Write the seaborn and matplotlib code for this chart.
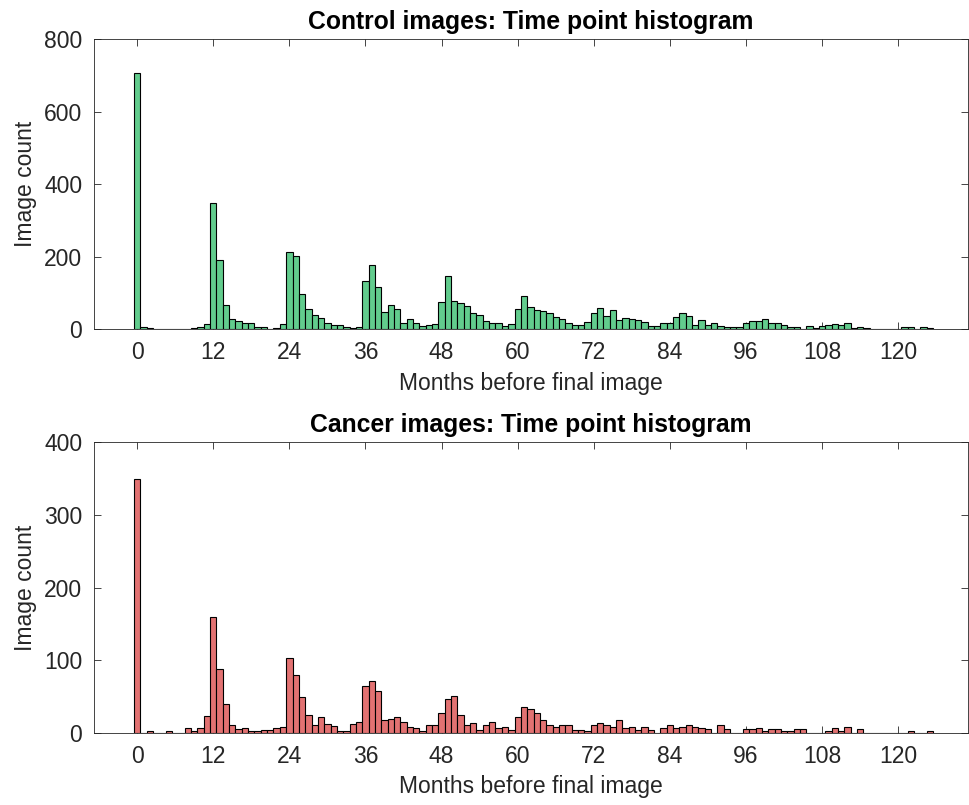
import numpy as np
import matplotlib
matplotlib.use("Agg")
import matplotlib.pyplot as plt
import seaborn as sns

# Months before the final image (one-month bins)
months = np.arange(126)

control_counts = [
    705, 6, 3, 0, 2, 2, 0, 2, 2, 3, 6, 14,
    347, 192, 67, 29, 24, 16, 16, 5, 5, 0, 3, 14,
    214, 203, 97, 57, 40, 32, 16, 13, 13, 7, 3, 7,
    133, 176, 117, 49, 68, 55, 17, 28, 16, 8, 11, 14,
    74, 146, 79, 72, 63, 46, 40, 24, 17, 17, 9, 14,
    57, 93, 61, 52, 50, 44, 33, 28, 18, 11, 11, 19,
    44, 58, 36, 52, 25, 30, 28, 25, 19, 9, 9, 17,
    17, 35, 44, 36, 11, 25, 13, 16, 10, 7, 5, 5,
    17, 22, 22, 28, 17, 17, 11, 7, 5, 0, 8, 3,
    8, 11, 14, 11, 17, 3, 6, 3, 0, 0, 0, 0,
    2, 6, 6, 0, 6, 3,
]

cancer_counts = [
    349, 0, 2, 0, 0, 3, 0, 0, 7, 3, 7, 23,
    160, 88, 39, 10, 5, 7, 3, 3, 4, 4, 7, 8,
    103, 80, 49, 25, 10, 21, 12, 9, 3, 2, 12, 15,
    65, 71, 57, 17, 19, 21, 15, 8, 7, 3, 11, 11,
    27, 46, 51, 24, 11, 14, 4, 10, 15, 7, 8, 4,
    21, 35, 33, 27, 17, 11, 8, 11, 11, 4, 4, 3,
    10, 14, 10, 8, 17, 7, 8, 4, 8, 4, 0, 7,
    10, 6, 8, 10, 8, 7, 5, 0, 11, 5, 0, 0,
    5, 5, 6, 2, 5, 5, 3, 3, 5, 5, 0, 0,
    0, 3, 6, 2, 8, 0, 5, 0, 0, 0, 0, 0,
    0, 0, 3, 0, 0, 3,
]

x_ticks = list(range(0, 121, 12))
control_y_ticks = [0, 200, 400, 600, 800]
cancer_y_ticks = [0, 100, 200, 300, 400]

green = "#62CC8D"
red = "#E27272"
ink = "#262626"

sns.set_theme(style="ticks")
plt.rcParams["font.family"] = ["Liberation Sans", "DejaVu Sans"]

W, H = 969, 805
fig = plt.figure(figsize=(W / 100, H / 100), dpi=100)
ax_top = fig.add_axes([94 / W, 475.7 / H, 874 / W, 290.3 / H])
ax_bot = fig.add_axes([94 / W, 72.3 / H, 874 / W, 290.4 / H])

panels = [
    (ax_top, control_counts, green, control_y_ticks,
     "Control images: Time point histogram"),
    (ax_bot, cancer_counts, red, cancer_y_ticks,
     "Cancer images: Time point histogram"),
]

for ax, counts, color, yticks, title in panels:
    sns.histplot(x=months, weights=counts, discrete=True, color=color,
                 alpha=1, edgecolor="black", linewidth=0.8, ax=ax)
    ax.set_xlim(-6.8, 131)
    ax.set_ylim(yticks[0], yticks[-1])
    ax.set_xticks(x_ticks)
    ax.set_yticks(yticks)
    ax.tick_params(direction="in", top=True, right=True, length=5,
                   width=0.6, color=ink, labelcolor=ink, labelsize=16.5,
                   pad=8.5)
    for spine in ax.spines.values():
        spine.set_visible(True)
        spine.set_color(ink)
        spine.set_linewidth(0.6)
        spine.set_zorder(3)
    ax.set_xlabel("Months before final image", fontsize=16.5, color=ink,
                  labelpad=5.5)
    ax.set_ylabel("Image count", fontsize=16.5, color=ink, labelpad=5)
    ax.set_title(title, fontsize=17.8, fontweight="bold", color="black",
                 pad=7.5)

fig.savefig("out.png", dpi=100)
